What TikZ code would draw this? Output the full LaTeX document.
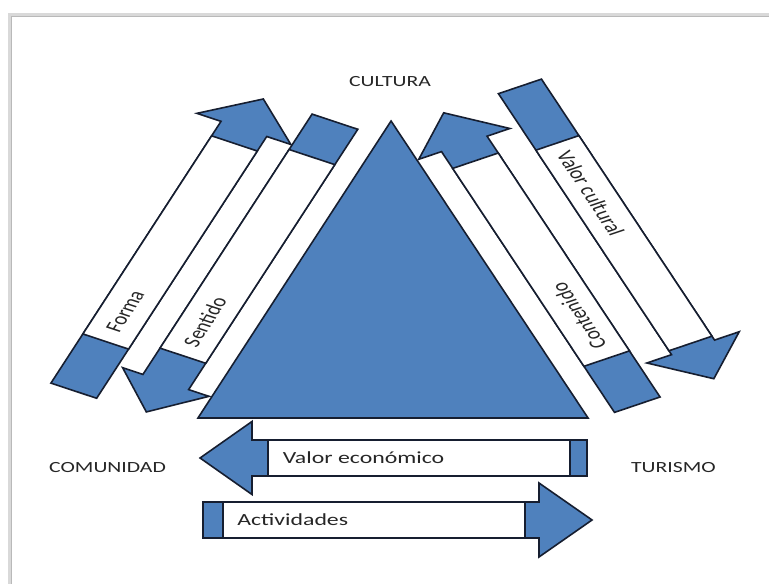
\documentclass[tikz,border=0pt]{standalone}
\usepackage{fontspec}
\setmainfont{Carlito}
\usetikzlibrary{calc}
\definecolor{officeblue}{RGB}{79,129,189}
\definecolor{outline}{RGB}{22,30,48}
\tikzset{
    arrowbody/.style = {fill=officeblue, draw=outline, line width=1.6pt}, % blue block arrows and the triangle
    textbox/.style = {fill=white, draw=outline, line width=1.6pt}, % white box laid over a shaft
    lbl/.style = {inner sep=0pt, text=black!85, font=\fontsize{17}{20}\selectfont},
    vertexlabel/.style = {inner sep=0pt, text=black!85, font=\fontsize{15.5}{18}\selectfont}
}
\begin{document}
\begin{tikzpicture}[x=1pt, y=1pt, xscale=1.4, transform shape]
\useasboundingbox (0,0) rectangle (549.3,584);
% page frame with its shadow
\draw[gray!30, line width=3pt] (7.1,0) -- (7.1,569) -- (549.3,569);
\draw[gray!55, line width=0.8pt] (8.2,0) -- (8.2,568) -- (549.3,568);

% triangle
\coordinate (izq) at (141.4,166);
\coordinate (cima) at (279.3,463);
\coordinate (der) at (420,166);
\draw[arrowbody] (izq) -- (cima) -- (der) -- cycle;

% Forma
\begin{scope}[shift={(52.7,193.3)}, rotate=65.1]
    \draw[arrowbody] (0,-18) -- (288.6,-18) -- (288.6,-37) -- (321.6,0) -- (288.6,37) -- (288.6,18) -- (0,18) -- cycle;
    \draw[textbox] (54.2,-18) rectangle (272.6,18);
    \node[lbl, anchor=west] (forma) at (65,0) {Forma};
\end{scope}

% Sentido
\begin{scope}[shift={(239.25,462.3)}, rotate=245.1]
    \draw[arrowbody] (0,-18) -- (287,-18) -- (287,-34) -- (320,0) -- (287,34) -- (287,18) -- (0,18) -- cycle;
    \draw[textbox] (39,-18) rectangle (258,18);
    \node[lbl, anchor=west, rotate=180] (sentido) at (247,0) {Sentido};
\end{scope}

% Contenido
\begin{scope}[shift={(455.2,179.3)}, rotate=115.35]
    \draw[arrowbody] (0,-18) -- (288.6,-18) -- (288.6,-36) -- (323,0) -- (288.6,36) -- (288.6,18) -- (0,18) -- cycle;
    \draw[textbox] (51,-18) rectangle (270,18);
    \node[lbl, anchor=west] (contenido) at (62,0) {Contenido};
\end{scope}

% Valor cultural
\begin{scope}[shift={(371.4,497.6)}, rotate=-64.65]
    \draw[arrowbody] (0,-17) -- (288.8,-17) -- (288.8,-36.5) -- (323.5,0) -- (288.8,36.5) -- (288.8,17) -- (0,17) -- cycle;
    \draw[textbox] (62.5,-17) rectangle (284.5,17);
    \node[lbl, anchor=west] (valorcultural) at (72,0) {Valor cultural};
\end{scope}

% Valor economico
\begin{scope}[shift={(419.3,126)}, rotate=180]
    \draw[arrowbody] (0,-18) -- (239.3,-18) -- (239.3,-36.5) -- (276.4,0) -- (239.3,36.5) -- (239.3,18) -- (0,18) -- cycle;
    \draw[textbox] (12.2,-18) rectangle (227.9,18);
    \node[lbl, anchor=west, rotate=180] (valoreco) at (217.5,0) {Valor económico};
\end{scope}

% Actividades
\begin{scope}[shift={(145,64)}]
    \draw[arrowbody] (0,-18) -- (240,-18) -- (240,-37) -- (277.9,0) -- (240,37) -- (240,18) -- (0,18) -- cycle;
    \draw[textbox] (14.3,-18) rectangle (230,18);
    \node[lbl, anchor=west] (actividades) at (24.3,0) {Actividades};
\end{scope}

% corner labels
\node[vertexlabel] (cultura) at (278.6,502) {CULTURA};
\node[vertexlabel] (comunidad) at (76.8,116) {COMUNIDAD};
\node[vertexlabel] (turismo) at (481,116) {TURISMO};
\end{tikzpicture}
\end{document}
